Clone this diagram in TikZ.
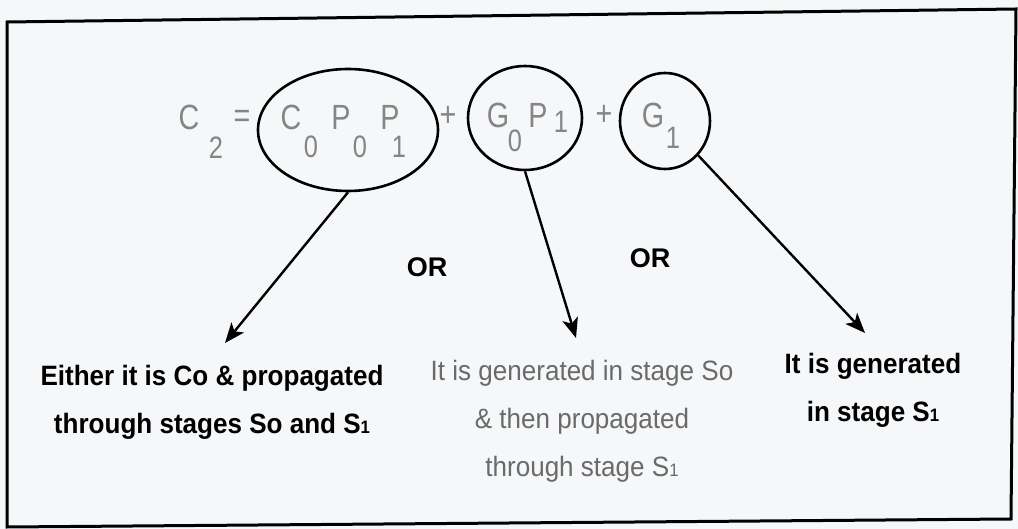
\documentclass[tikz,border=0pt]{standalone}
\usepackage{fontspec}
\setmainfont{Liberation Sans}
\newfontfamily\eqfont[FakeStretch=0.82]{Liberation Sans}
\newfontfamily\notefont[FakeStretch=0.93]{Liberation Sans}
\usetikzlibrary{shapes.geometric,arrows.meta}
\definecolor{paper}{HTML}{F5F7F9}
\definecolor{eqgray}{HTML}{858585}
\definecolor{txtgray}{HTML}{6A6A6A}
\tikzset{
  sym/.style={inner sep=0pt, text=eqgray, font=\eqfont\fontsize{35}{35}\selectfont},
  sub/.style={inner sep=0pt, text=eqgray, font=\eqfont\fontsize{31}{31}\selectfont},
  ring/.style={draw=black, line width=2.6pt, ellipse, inner sep=0pt},
  pointer/.style={line width=2.4pt, -{Stealth[length=20pt,width=16pt,inset=5pt]}},
  boldtxt/.style={align=center, inner sep=0pt, font=\notefont\fontsize{28}{48}\selectfont\bfseries},
  plaintxt/.style={align=center, inner sep=0pt, text=txtgray, font=\notefont\fontsize{28}{48}\selectfont},
  orlabel/.style={inner sep=0pt, font=\fontsize{27}{27}\selectfont\bfseries},
}
\newcommand{\subone}{{\fontsize{18}{18}\selectfont 1}}
\begin{document}
\begin{tikzpicture}[x=1pt,y=-1pt]
\useasboundingbox (0,0) rectangle (1018,529);
\fill[paper] (0,0) rectangle (1018,529);
% frame
\draw[line width=3pt, line join=miter] (7,22) -- (1016,9) -- (1011,519) -- (7,527) -- cycle;

% equation C2 = C0 P0 P1 + G0 P1 + G1
\node[sym] (c2) at (189,117) {C};
\node[sub] (c2s) at (216,148) {2};
\node[sym] (eq) at (242,119) {=};
\node[sym] (c0) at (291,117) {C};
\node[sub] (c0s) at (311,147) {0};
\node[sym] (p0) at (341,117) {P};
\node[sub] (p0s) at (360,147) {0};
\node[sym] (p1) at (390,117) {P};
\node[sub] (p1s) at (399,147) {1};
\node[sym] (plus1) at (448,116) {+};
\node[sym] (g0) at (498,115) {G};
\node[sub] (g0s) at (515,141) {0};
\node[sym] (p1b) at (538,115) {P};
\node[sub] (p1bs) at (561,122) {1};
\node[sym] (plus2) at (604,115) {+};
\node[sym] (g1) at (653,115) {G};
\node[sub] (g1s) at (673,138) {1};

% circled terms
\node[ring, minimum width=180pt, minimum height=122pt] (t1) at (348,130) {};
\node[ring, minimum width=114pt, minimum height=104pt] (t2) at (525,118) {};
\node[ring, minimum width=90pt, minimum height=96pt] (t3) at (665,121) {};

% arrow tips
\coordinate (a1) at (225,343);
\coordinate (a2) at (576,338);
\coordinate (a3) at (865,333);
\draw[pointer] (t1.south) -- (a1);
\draw[pointer] (t2.south) -- (a2);
\draw[pointer] (t3.-46) -- (a3);

% OR labels
\node[orlabel] (or1) at (427,267) {OR};
\node[orlabel] (or2) at (650,258) {OR};

% explanations
\node[boldtxt, anchor=north] (d1) at (212,365) {Either it is Co \& propagated\\through stages So and S\subone};
\node[plaintxt, anchor=north] (d2) at (582,360) {It is generated in stage So\\\& then propagated\\through stage S\subone};
\node[boldtxt, anchor=north] (d3) at (873,353) {It is generated\\in stage S\subone};
\end{tikzpicture}
\end{document}
